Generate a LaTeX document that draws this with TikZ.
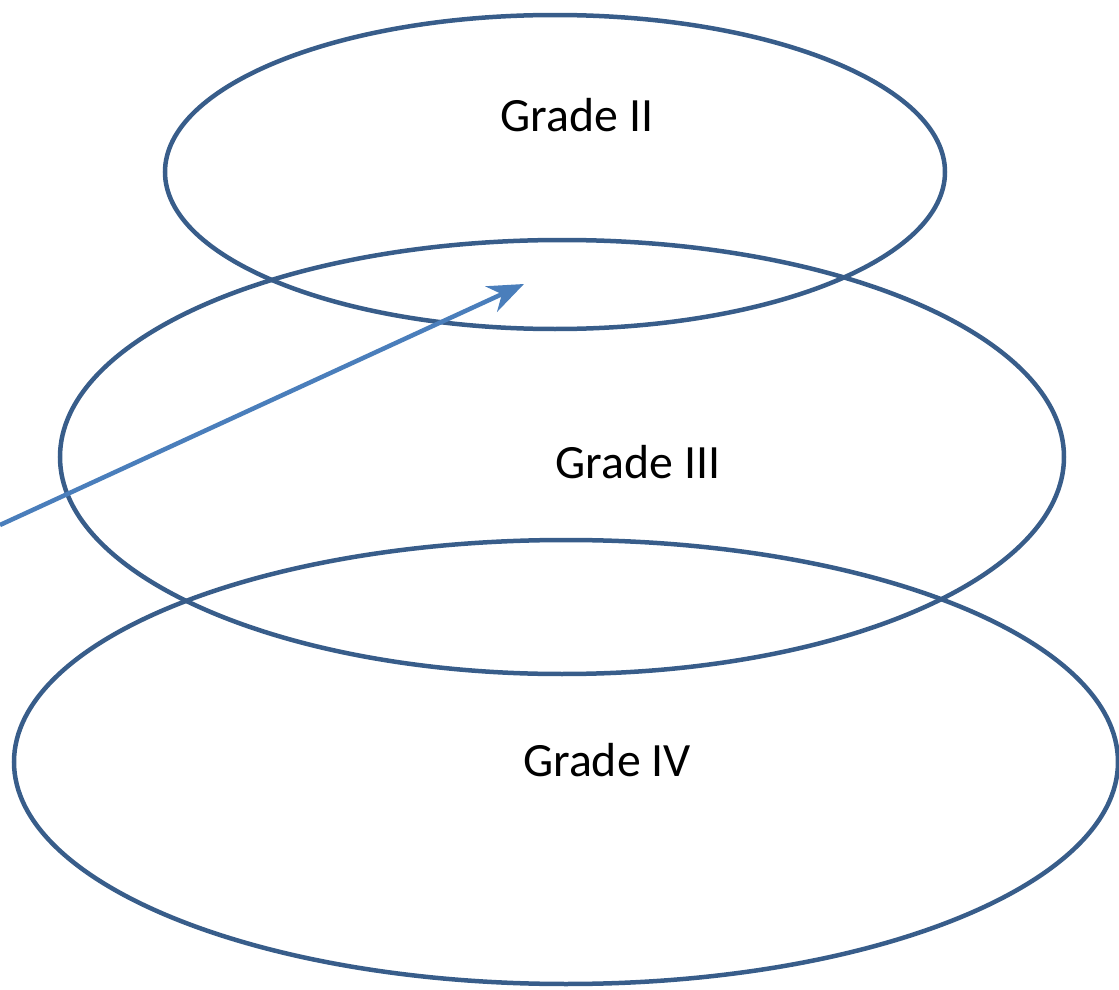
\documentclass[tikz,border=0pt]{standalone}
\usepackage{fontspec}
\setmainfont{Carlito}
\usepackage{tikz}
\usetikzlibrary{
    arrows.meta,
    shapes.geometric
}
\definecolor{ringblue}{HTML}{385D8A}
\definecolor{arrowblue}{HTML}{4A7EBB}

\begin{document}
\begin{tikzpicture}[
    ring/.style={draw=ringblue, line width=0.045cm, ellipse, inner sep=0pt},
    gradelabel/.style={font=\fontsize{13.6}{16}\selectfont}
  ]
  \useasboundingbox (0,0) rectangle (11.19,9.89);

  % Rings, top to bottom
  \node[ring, minimum width=7.80cm, minimum height=3.14cm] (gradetwo) at (5.55,8.17) {};
  \node[ring, minimum width=10.04cm, minimum height=4.34cm] (gradethree) at (5.62,5.32) {};
  \node[ring, minimum width=11.04cm, minimum height=4.44cm] (gradefour) at (5.66,2.27) {};

  % Labels
  \node[gradelabel] (lbltwo) at (5.77,8.74) {Grade II};
  \node[gradelabel] (lblthree) at (6.38,5.27) {Grade III};
  \node[gradelabel] (lblfour) at (6.07,2.29) {Grade IV};

  % Arrow coming in from the left
  \coordinate (arrowstart) at (0,4.64);
  \coordinate (arrowend) at (5.24,7.05);
  \draw[-{Stealth[length=0.36cm, width=0.28cm]}, arrowblue, line width=0.045cm] (arrowstart) -- (arrowend);

\end{tikzpicture}
\end{document}
